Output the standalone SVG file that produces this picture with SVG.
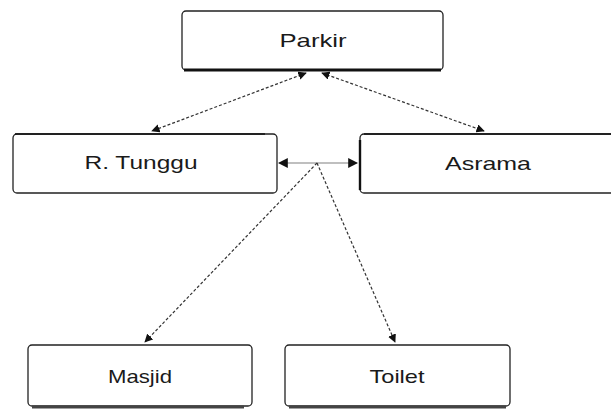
<svg xmlns="http://www.w3.org/2000/svg" width="611" height="412" viewBox="0 0 611 412">
  <style>
    .box { fill: #ffffff; stroke: #222222; stroke-width: 1.3; }
    .base { stroke: #111111; stroke-width: 3; fill: none; }
    .lbl { font-family: "Liberation Sans", Arial, sans-serif; font-size: 19px; fill: #1a1a1a; text-anchor: middle; dominant-baseline: central; }
    .link { stroke: #333333; stroke-width: 1.2; stroke-dasharray: 3 2; fill: none; }
    .link2 { stroke: #aaaaaa; stroke-width: 1.4; fill: none; }
  </style>
  <defs>
    <marker id="ah" viewBox="0 0 10 10" refX="9" refY="5" markerWidth="7" markerHeight="7" orient="auto-start-reverse">
      <path d="M0,0 L10,5 L0,10 z" fill="#111111"/>
    </marker>
  </defs>

  <g id="parkir">
    <rect class="box" x="182" y="11" width="261" height="59" rx="4"/>
    <line class="base" x1="184" y1="70" x2="441" y2="70"/>
    <text class="lbl" x="313" y="40" textLength="67" lengthAdjust="spacingAndGlyphs">Parkir</text>
  </g>

  <g id="ruang-tunggu">
    <rect class="box" x="13" y="134" width="264" height="59" rx="4"/>
    <line class="base" x1="15" y1="134" x2="265" y2="134" style="stroke-width:1.6"/>
    <text class="lbl" x="141" y="162" textLength="113" lengthAdjust="spacingAndGlyphs">R. Tunggu</text>
  </g>

  <g id="asrama">
    <rect class="box" x="360" y="134" width="260" height="59" rx="4"/>
    <line class="base" x1="360" y1="140" x2="360" y2="190" style="stroke-width:2.4"/>
    <line class="base" x1="364" y1="134" x2="611" y2="134" style="stroke-width:1.6"/>
    <text class="lbl" x="488" y="163" textLength="86" lengthAdjust="spacingAndGlyphs">Asrama</text>
  </g>

  <g id="masjid">
    <rect class="box" x="28" y="345" width="224" height="61" rx="4"/>
    <line class="base" x1="32" y1="407" x2="244" y2="407" style="stroke:#444444"/>
    <text class="lbl" x="140" y="376" textLength="64" lengthAdjust="spacingAndGlyphs">Masjid</text>
  </g>

  <g id="toilet">
    <rect class="box" x="285" y="345" width="225" height="61" rx="4"/>
    <line class="base" x1="289" y1="407" x2="506" y2="407" style="stroke:#444444"/>
    <text class="lbl" x="397" y="376" textLength="55" lengthAdjust="spacingAndGlyphs">Toilet</text>
  </g>

  <g id="connectors">
    <line class="link" x1="306" y1="73" x2="152" y2="131" marker-start="url(#ah)" marker-end="url(#ah)"/>
    <line class="link" x1="322" y1="73" x2="484" y2="131" marker-start="url(#ah)" marker-end="url(#ah)"/>
    <line class="link2" x1="279" y1="163" x2="357" y2="163" marker-start="url(#ah)" marker-end="url(#ah)"/>
    <line class="link" x1="317" y1="163" x2="145" y2="342" marker-end="url(#ah)"/>
    <line class="link" x1="317" y1="163" x2="395" y2="342" marker-end="url(#ah)"/>
  </g>
</svg>
